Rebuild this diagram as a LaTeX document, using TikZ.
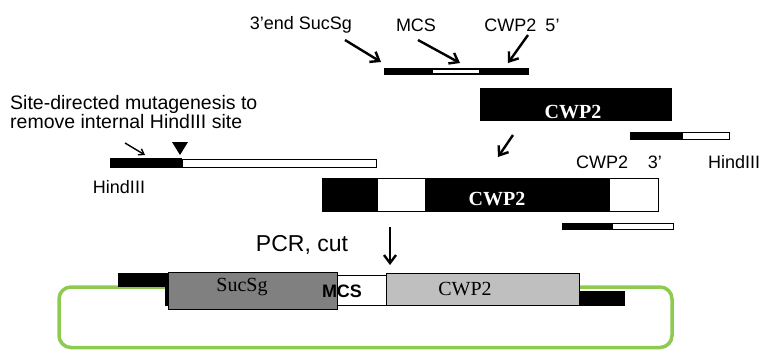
\documentclass[tikz,border=0pt]{standalone}
\usepackage{fontspec}
\setmainfont{Liberation Sans}
\newfontfamily\serifface{Liberation Serif}
\usetikzlibrary{arrows.meta, positioning}
\definecolor{cgreen}{HTML}{8DCB4E}
\definecolor{cdgray}{HTML}{808080}
\definecolor{clgray}{HTML}{BFBFBF}

\begin{document}
\begin{tikzpicture}[x=1pt, y=-1pt,
  lbl/.style={inner sep=0pt, font=\fontsize{18}{18.5}\selectfont},
  genetxt/.style={inner sep=0pt, font=\fontsize{20}{20}\selectfont\serifface},
  arr/.style={-{Straight Barb[length=8pt, width=12pt]}, line width=2.4pt},
  barline/.style={draw=black, line width=0.8pt}
]
  \useasboundingbox (0,0) rectangle (761,349);

  % top fragment: 3'end SucSg - MCS - CWP2 5'
  \node[lbl] (lsuc) at (301,25) {3'end SucSg};
  \node[lbl] (lmcs) at (416,25) {MCS};
  \node[lbl] (l5) at (522,25) {CWP2\hspace{0.5em}5'};
  \fill (384,68) rectangle (529,75);
  \fill[white] (433,70) rectangle (479,73);
  \coordinate (s1) at (345,40); \coordinate (e1) at (381,62);
  \coordinate (s2) at (418,40); \coordinate (e2) at (460,63);
  \coordinate (s3) at (528,35); \coordinate (e3) at (508,63);
  \draw[arr] (s1) -- (e1);
  \draw[arr] (s2) -- (e2);
  \draw[arr] (s3) -- (e3);

  % CWP2 block
  \fill (480,88) rectangle (672,121);
  \node[genetxt, text=white, font=\fontsize{20}{20}\selectfont\serifface\bfseries] (cwpa) at (573,112) {CWP2};

  % CWP2 3' primer
  \fill (630,132) rectangle (682,140);
  \draw[barline, fill=white] (682,132.5) rectangle (729,139.5);
  \node[lbl] (l3) at (619,162) {CWP2\hspace{1.1em}3'};
  \node[lbl, anchor=west] (lhr) at (708,162) {HindIII};

  % mutagenesis primer
  \node[lbl, align=left, anchor=west, font=\fontsize{19.5}{18.5}\selectfont] (lsite) at (10,112) {Site-directed mutagenesis to\\remove internal HindIII site};
  \coordinate (s4) at (125,143); \coordinate (e4) at (145,155);
  \draw[-{Straight Barb[length=5pt, width=7pt]}, line width=1.4pt] (s4) -- (e4);
  \fill (172,142) -- (188,142) -- (180,155) -- cycle;
  \fill (110,158) rectangle (182,168);
  \draw[barline, fill=white] (182,159) rectangle (376,167);
  \node[lbl] (lhl) at (119,187) {HindIII};

  \coordinate (s5) at (513,135); \coordinate (e5) at (498,157);
  \draw[arr] (s5) -- (e5);

  % PCR product
  \fill (322,178) rectangle (378,211);
  \fill (425,178) rectangle (610,211);
  \draw[barline] (322,178) rectangle (658,211);
  \node[genetxt, text=white, font=\fontsize{20}{20}\selectfont\serifface\bfseries] (cwpb) at (497,199) {CWP2};
  \fill (562,223) rectangle (612,230);
  \draw[barline, fill=white] (612,223.5) rectangle (673,229.5);

  \node[lbl, font=\fontsize{23}{23}\selectfont] (lpcr) at (302,245) {PCR, cut};
  \coordinate (s6) at (390,227); \coordinate (e6) at (390,265);
  \draw[arr] (s6) -- (e6);

  % vector
  \draw[cgreen, line width=3.5pt, rounded corners=12pt] (59,287) rectangle (672,347.5);
  \fill (118,273) rectangle (170,287);
  \fill (165,273) rectangle (200,306);
  \fill (577,291) rectangle (625,306);
  \draw[barline, fill=cdgray] (168,272) rectangle (337,309);
  \draw[barline, fill=white] (337,275) rectangle (386,305);
  \draw[barline, fill=clgray] (386,273) rectangle (579,305);
  \node[genetxt] (suc) at (242,287) {SucSg};
  \node[lbl, font=\fontsize{18}{18}\selectfont\bfseries] (mcs) at (342,291) {MCS};
  \node[genetxt] (cwpc) at (465,289) {CWP2};
\end{tikzpicture}
\end{document}
